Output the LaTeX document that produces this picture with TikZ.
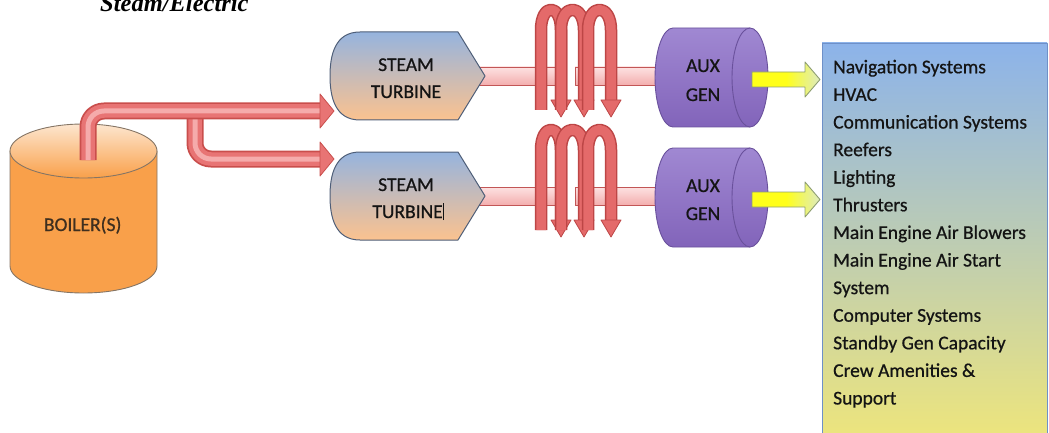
\documentclass[tikz,border=0pt]{standalone}
\usepackage{fontspec}
\setmainfont{Carlito}[FakeBold=0.7]
\newfontfamily\titlefont{Liberation Serif}
\definecolor{cTxt}{HTML}{141414}
\definecolor{cBoilerBody}{HTML}{F9A04A}
\definecolor{cBoilerLight}{HTML}{FDE6CF}
\definecolor{cBoilerEdge}{HTML}{857565}
\definecolor{cPipeDark}{HTML}{C94E4C}
\definecolor{cPipeMid}{HTML}{E87474}
\definecolor{cPipeHi}{HTML}{F5ABAB}
\definecolor{cTurbTop}{HTML}{96B4DE}
\definecolor{cTurbMid}{HTML}{E9BDA8}
\definecolor{cTurbBot}{HTML}{FBC28F}
\definecolor{cTurbEdge}{HTML}{4E5E78}
\definecolor{cShaftTop}{HTML}{FDE2E2}
\definecolor{cShaftBot}{HTML}{F3AEAE}
\definecolor{cShaftEdge}{HTML}{C25656}
\definecolor{cCoilDark}{HTML}{BD4646}
\definecolor{cCoilMid}{HTML}{E46A6A}
\definecolor{cGenTop}{HTML}{A088D2}
\definecolor{cGenBot}{HTML}{8264BA}
\definecolor{cGenEdge}{HTML}{6A519C}
\definecolor{cYel}{HTML}{FFFF1A}
\definecolor{cYelHead}{HTML}{DDEBC0}
\definecolor{cYelEdge}{HTML}{8E9E72}
\definecolor{cBoxTop}{HTML}{8CB3EA}
\definecolor{cBoxBot}{HTML}{EFE67A}
\definecolor{cBoxEdge}{HTML}{6E90C8}
\begin{document}
\begin{tikzpicture}[x=1pt,y=-1pt,line join=round,
  txt/.style={inner sep=0pt,anchor=base,text=cTxt,font=\fontsize{19.5}{22}\selectfont},
  listtxt/.style={inner sep=0pt,anchor=base west,text=cTxt,font=\fontsize{19.5}{22}\selectfont},
  pipeA/.style={draw=cPipeDark,line width=17pt,rounded corners=16pt},
  pipeB/.style={draw=cPipeMid,line width=13.5pt,rounded corners=16pt},
  pipeC/.style={draw=cPipeHi,line width=5pt,rounded corners=16pt},
  pipehead/.style={fill=cPipeMid,draw=cPipeDark,line width=0.8pt},
  turbine/.style={top color=cTurbTop,middle color=cTurbMid,bottom color=cTurbBot,draw=cTurbEdge,line width=1pt},
  shaft/.style={top color=cShaftTop,bottom color=cShaftBot,draw=cShaftEdge,line width=0.8pt},
  coilA/.style={draw=cCoilDark,line width=12.5pt},
  coilB/.style={draw=cCoilMid,line width=9.5pt},
  coilhead/.style={fill=cCoilMid,draw=cCoilDark,line width=0.8pt},
  gen/.style={top color=cGenTop,bottom color=cGenBot,draw=cGenEdge,line width=0.9pt},
  yarrow/.style={left color=cYel,right color=cYelHead,middle color=cYel,draw=cYelEdge,line width=0.9pt}
]
\useasboundingbox (0,0) rectangle (1049,433);

% title (cropped at top)
\node[anchor=base west,inner sep=0pt,font=\titlefont\bfseries\itshape\fontsize{24.5}{26}\selectfont] (title) at (100,12) {Steam/Electric};

% list box
\shadedraw[top color=cBoxTop,bottom color=cBoxBot,draw=cBoxEdge,line width=0.8pt] (822,43) rectangle (1047,446);
\coordinate (boxW) at (822,43);
\foreach \t [count=\i from 0] in {Navigation Systems,HVAC,Communication Systems,Reefers,Lighting,Thrusters,Main Engine Air Blowers,Main Engine Air Start,System,Computer Systems,Standby Gen Capacity,Crew Amenities \&,Support}
  \node[listtxt] (L\i) at (833,{73.3+27.6*\i}) {\t};

% boiler
\filldraw[fill=cBoilerBody,draw=cBoilerEdge,line width=0.9pt] (10,151) -- (10,266) arc[start angle=180,end angle=0,x radius=73.5,y radius=27] -- (157,151) -- cycle;
\shadedraw[top color=cBoilerLight,bottom color=cBoilerBody,draw=cBoilerEdge,line width=0.9pt] (83.5,151) ellipse[x radius=73.5,y radius=27];
\node[txt,text=cTxt!75!brown] (boiler) at (82.7,231) {BOILER(S)};

% steam pipes
\coordinate (bout) at (88,160);
\coordinate (junc) at (195,111);
\coordinate (h1) at (320,111);
\coordinate (h2) at (320,159);
\foreach \s in {pipeA,pipeB,pipeC} \draw[\s] (junc) |- (h2);
\foreach \s in {pipeA,pipeB,pipeC} \draw[\s] (bout) |- (h1);
\draw[pipehead] (320,94) -- (334,111) -- (320,128) -- cycle;
\draw[pipehead] (320,142) -- (334,159) -- (320,176) -- cycle;

\foreach \dy [count=\k] in {0,120} {
  % shaft
  \coordinate (tip\k) at (485,{76+\dy});
  \coordinate (genL\k) at (662,{76+\dy});
  \shadedraw[shaft] (478,{67+\dy}) rectangle (558,{85+\dy});
  \shadedraw[shaft] (575,{67+\dy}) rectangle (662,{85+\dy});
  % turbine
  \shadedraw[turbine] (360,{32+\dy}) -- (458,{32+\dy}) -- (tip\k) -- (458,{120+\dy}) -- (360,{120+\dy})
     .. controls (335,{120+\dy}) and (330,{97+\dy}) .. (330,{76+\dy})
     .. controls (330,{55+\dy}) and (335,{32+\dy}) .. (360,{32+\dy}) -- cycle;
  % coil
  \foreach \xl/\xr in {541/561,561/584,588/611} {
    \foreach \s in {coilA,coilB}
      \draw[\s] (\xl,{110+\dy}) -- (\xl,{30+\dy}) .. controls (\xl,{3+\dy}) and (\xr,{3+\dy}) .. (\xr,{30+\dy}) -- (\xr,{101+\dy});
    \draw[coilhead] ({\xr-10},{100+\dy}) -- ({\xr+10},{100+\dy}) -- (\xr,{117+\dy}) -- cycle;
  }
  % generator
  \shadedraw[gen] (673,{28+\dy}) -- (750,{28+\dy}) arc[start angle=-90,end angle=90,x radius=18,y radius=49.5]
     -- (673,{127+\dy}) arc[start angle=90,end angle=270,x radius=18,y radius=49.5] -- cycle;
  \draw[cGenEdge,line width=0.9pt] (750,{28+\dy}) arc[start angle=-90,end angle=-270,x radius=18,y radius=49.5];
  % yellow arrow
  \coordinate (ya\k) at (820,{79.5+\dy});
  \shadedraw[yarrow] (752,{72+\dy}) -- (805,{72+\dy}) -- (805,{62+\dy}) -- (ya\k) -- (805,{97+\dy}) -- (805,{87+\dy}) -- (752,{87+\dy}) -- cycle;
}

% labels
\node[txt] (st1a) at (406,71) {STEAM};
\node[txt] (st1b) at (406,98) {TURBINE};
\node[txt] (st2a) at (406,191) {STEAM};
\node[txt] (st2b) at (408,218) {TURBINE\rule[-2pt]{0.8pt}{17pt}};
\node[txt] (g1a) at (703,72) {AUX};
\node[txt] (g1b) at (703,101) {GEN};
\node[txt] (g2a) at (703,192) {AUX};
\node[txt] (g2b) at (703,220) {GEN};
\end{tikzpicture}
\end{document}
